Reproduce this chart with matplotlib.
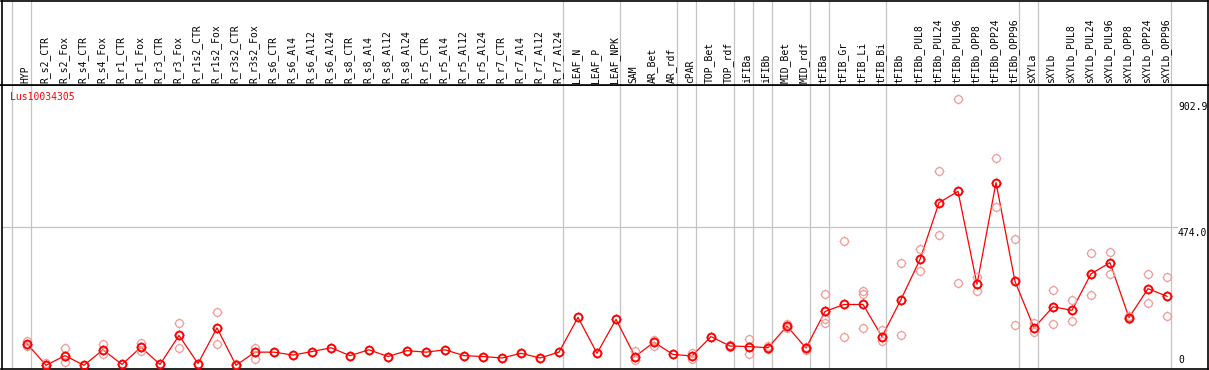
"""Expression profile of Lus10034305 across tissues, mean with replicates."""

import matplotlib

matplotlib.use("Agg")
import matplotlib.pyplot as plt
from matplotlib.path import Path

CATEGORIES = [
    "HYP", "R_s2_CTR", "R_s2_Fox", "R_s4_CTR", "R_s4_Fox", "R_r1_CTR", "R_r1_Fox",
    "R_r3_CTR", "R_r3_Fox", "R_r1s2_CTR", "R_r1s2_Fox", "R_r3s2_CTR", "R_r3s2_Fox",
    "R_s6_CTR", "R_s6_Al4", "R_s6_Al12", "R_s6_Al24", "R_s8_CTR", "R_s8_Al4",
    "R_s8_Al12", "R_s8_Al24", "R_r5_CTR", "R_r5_Al4", "R_r5_Al12", "R_r5_Al24",
    "R_r7_CTR", "R_r7_Al4", "R_r7_Al12", "R_r7_Al24", "LEAF_N", "LEAF_P", "LEAF_NPK",
    "SAM", "AR_Bet", "AR_rdf", "cPAR", "TOP_Bet", "TOP_rdf", "iFIBa", "iFIBb",
    "MID_Bet", "MID_rdf", "tFIBa", "tFIB_Gr", "tFIB_Li", "tFIB_Bi", "tFIBb",
    "tFIBb_PUL8", "tFIBb_PUL24", "tFIBb_PUL96", "tFIBb_OPP8", "tFIBb_OPP24",
    "tFIBb_OPP96", "sXYLa", "sXYLb", "sXYLb_PUL8", "sXYLb_PUL24", "sXYLb_PUL96",
    "sXYLb_OPP8", "sXYLb_OPP24", "sXYLb_OPP96",
]

MEAN_VALUES = [
    74, 0, 33, 0, 53, 3, 62, 3, 102, 6, 128, 0, 45,
    45, 35, 47, 60, 33, 53, 30, 50, 45, 53, 33, 30, 25, 41, 25, 45,
    164, 41, 157,
    30, 79, 37, 32, 98, 66, 64, 60, 134, 59,
    184, 208, 208, 98, 225, 362, 556, 595, 277, 625, 287,
    128, 200, 188, 313, 351, 163, 262, 236,
]

REPLICATE_VALUES = [
    [82, 65], [8, 2], [60, 10], [], [72, 38], [], [76, 49], [6], [146, 59], [],
    [182, 74], [6], [59, 22],
    [], [], [], [], [], [], [], [], [], [], [], [], [], [], [], [],
    [], [], [],
    [49, 17], [86, 67], [], [42, 20], [], [71, 62], [91, 39], [65, 57],
    [140, 128], [64, 54],
    [243, 158, 146], [425, 98], [254, 245, 128], [121, 83], [351, 102],
    [399, 324], [666, 447], [912, 280], [302, 253], [710, 541], [433, 139],
    [146, 114], [256, 142], [225, 150], [385, 239], [388, 313], [168, 160],
    [313, 214], [303, 170],
]

# a grey separator follows each of these columns (None = before the first one)
GROUP_ENDS = [
    None, "HYP", "R_r7_Al24", "LEAF_NPK", "AR_rdf", "cPAR", "TOP_rdf", "iFIBa",
    "iFIBb", "MID_rdf", "tFIBa", "tFIB_Bi", "tFIBb_OPP96", "sXYLa", "sXYLb_OPP96",
]

Y_TICKS = [902.9, 474.0, 0]
Y_TICK_LABELS = ["902.9", "474.0", "0"]
GENE_ID = "Lus10034305"

RED = "#ff0000"
PALE_RED = "#f09a9a"
GREY = "#c4c4c4"
FONT = "DejaVu Sans Mono"

W_PX, H_PX = 1209, 370
COL0_PX, COL_STEP_PX = 27.0, 19.0
LEFT_PX, RIGHT_PX = 1.5, 1208.0
HEADER_PX, BOTTOM_PX = 85.0, 369.0
ZERO_PX, PX_PER_UNIT = 365.3, 0.2924


def px_to_col(px: float) -> float:
    return (px - COL0_PX) / COL_STEP_PX


def tick_marks() -> Path:
    verts, codes = [], []
    for dx, dy in [(0, 1), (0, -1), (1, 0), (-1, 0)]:
        verts += [[dx, dy], [dx * 1.4, dy * 1.4]]
        codes += [Path.MOVETO, Path.LINETO]
    return Path(verts, codes)


def draw_markers(ax, x, y, color, edge_width, size) -> None:
    ax.plot(x, y, linestyle="none", marker="o", markersize=size,
            markerfacecolor="none", markeredgecolor=color, markeredgewidth=edge_width, zorder=4)
    ax.plot(x, y, linestyle="none", marker=tick_marks(), markersize=size * 1.4,
            markerfacecolor="none", markeredgecolor=color, markeredgewidth=0.8, zorder=4)


def main() -> None:
    fig = plt.figure(figsize=(W_PX / 100, H_PX / 100), dpi=100)
    width = (RIGHT_PX - LEFT_PX) / W_PX
    left = LEFT_PX / W_PX
    ax = fig.add_axes([left, (H_PX - BOTTOM_PX) / H_PX, width, (BOTTOM_PX - HEADER_PX) / H_PX])
    head = fig.add_axes([left, (H_PX - HEADER_PX) / H_PX, width, HEADER_PX / H_PX - 0.002])

    xlim = (px_to_col(LEFT_PX), px_to_col(RIGHT_PX))
    ylim = ((ZERO_PX - BOTTOM_PX) / PX_PER_UNIT, (ZERO_PX - HEADER_PX) / PX_PER_UNIT)
    for a in (ax, head):
        a.set_xlim(*xlim)
        a.set_xticks([])
        a.set_yticks([])
        for spine in a.spines.values():
            spine.set_linewidth(1.2)
            spine.set_color("black")
    ax.set_ylim(*ylim)
    head.set_ylim(0, 1)

    index = {name: i for i, name in enumerate(CATEGORIES)}
    sep_offset = 3.6 / COL_STEP_PX
    for name in GROUP_ENDS:
        pos = (-1 if name is None else index[name]) + sep_offset
        ax.axvline(pos, color=GREY, linewidth=0.9, zorder=1)
        head.axvline(pos, color=GREY, linewidth=0.9, zorder=1)

    grid_right = (1177 - LEFT_PX) / (RIGHT_PX - LEFT_PX)
    ax.axhline(Y_TICKS[1], xmax=grid_right, color=GREY, linewidth=0.9, zorder=1)

    xs = list(range(len(CATEGORIES)))
    rep_x = [i for i, reps in enumerate(REPLICATE_VALUES) for _ in reps]
    rep_y = [v for reps in REPLICATE_VALUES for v in reps]
    draw_markers(ax, rep_x, rep_y, PALE_RED, 0.9, 5.6)
    ax.plot(xs, MEAN_VALUES, color=RED, linewidth=0.9, zorder=3)
    draw_markers(ax, xs, MEAN_VALUES, RED, 1.4, 5.6)

    label_x = px_to_col(1178)
    for value, text in zip(Y_TICKS, Y_TICK_LABELS):
        va = "bottom" if value == 0 else "top"
        ax.text(label_x, value - (0 if value == 0 else 4), text, ha="left", va=va,
                fontsize=7, family=FONT, color="black", clip_on=False)

    ax.text(px_to_col(10), (ZERO_PX - 92) / PX_PER_UNIT, GENE_ID, ha="left", va="top",
            fontsize=7, family=FONT, color=RED)

    for i, name in enumerate(CATEGORIES):
        head.text(i - 0.08, 0.02, name, rotation=90, ha="center", va="bottom",
                  fontsize=7, family=FONT, color="black")

    fig.savefig("out.png", dpi=100)
    plt.close(fig)


if __name__ == "__main__":
    main()
